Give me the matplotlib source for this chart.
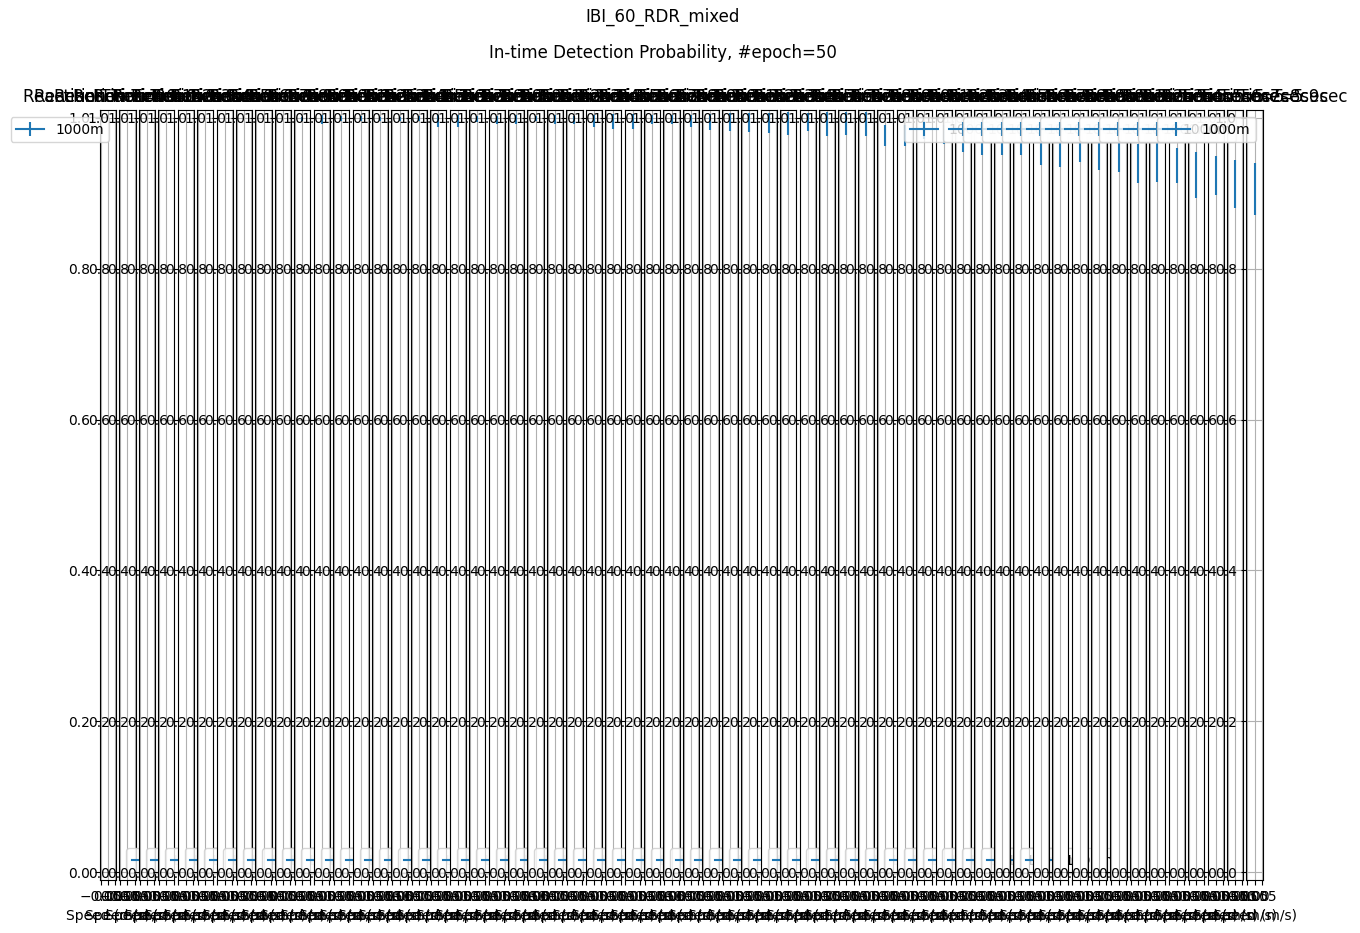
import matplotlib
matplotlib.use('Agg')
from matplotlib import pyplot as plt

run_name = 'IBI_60_RDR_mixed'
plot_title = 'In-time Detection Probability, #epoch=50'
range_label = '1000m'

# one subplot per reaction time setting
reaction_times = ['0', '0.1', '0.2', '0.3', '0.4', '0.5', '0.6', '0.7', '0.8', '0.9',
                  '1.0', '1.1', '1.2', '1.3', '1.4', '1.5', '1.6', '1.7', '1.8', '1.9',
                  '2.0', '2.1', '2.2', '2.3', '2.4', '2.5', '2.6', '2.7', '2.8', '2.9',
                  '3.0', '3.1', '3.2', '3.3', '3.4', '3.5', '3.6', '3.7', '3.8', '3.9',
                  '4.0', '4.1', '4.2', '4.3', '4.4', '4.5', '4.6', '4.7', '4.8', '4.9',
                  '5.0', '5.1', '5.2', '5.3', '5.4', '5.5', '5.6', '5.7', '5.8', '5.9']
speeds = [0.0] * 60

# mean detection probability and std over epochs
det_mean = [1.0, 1.0, 1.0, 1.0, 1.0, 1.0, 1.0, 1.0, 1.0, 1.0,
            0.9986, 0.9969, 0.9983, 0.9983, 0.9986, 0.9986, 0.9983, 0.9958, 0.9955, 0.9979,
            0.9972, 0.9969, 0.9983, 0.9969, 0.9972, 0.9958, 0.9948, 0.9948, 0.9969, 0.9969,
            0.9955, 0.9944, 0.9937, 0.9934, 0.9927, 0.9920, 0.9937, 0.9913, 0.9920, 0.9913,
            0.976, 0.976, 0.9835, 0.9775, 0.9695, 0.9675, 0.9675, 0.968, 0.9585, 0.9575,
            0.9605, 0.953, 0.9515, 0.939, 0.9405, 0.9365, 0.924, 0.923, 0.912, 0.9055]
det_std = [0.0, 0.0, 0.0, 0.0, 0.0, 0.0, 0.0, 0.0, 0.0, 0.0,
           0.0026, 0.0059, 0.0033, 0.0033, 0.0026, 0.0026, 0.0033, 0.0078, 0.0085, 0.0039,
           0.0052, 0.0059, 0.0033, 0.0059, 0.0052, 0.0078, 0.0098, 0.0098, 0.0059, 0.0059,
           0.0085, 0.0104, 0.0117, 0.0124, 0.0137, 0.0150, 0.0117, 0.0163, 0.0150, 0.0163,
           0.014, 0.014, 0.0115, 0.0125, 0.0155, 0.0175, 0.0175, 0.017, 0.0215, 0.0225,
           0.0195, 0.022, 0.0235, 0.026, 0.0265, 0.0235, 0.030, 0.026, 0.032, 0.0345]

# where legend ended up in each subplot
legend_locs = ['upper right'] + ['lower left'] * 45 + ['upper right', 'lower left'] + ['upper right'] * 12

fig, axes = plt.subplots(1, len(reaction_times), figsize=(13.6, 9.33), dpi=100)
fig.subplots_adjust(left=0.0735, right=0.9284, bottom=0.0568, top=0.8821, wspace=0.2)
fig.text(0.4871, 1 - 17 / 933, run_name, ha='center', va='center', fontsize=12)
fig.text(0.4871, 1 - 53 / 933, plot_title, ha='center', va='center', fontsize=12)

for i, ax in enumerate(axes):
    ax.errorbar([speeds[i]], [det_mean[i]], yerr=[det_std[i]], label=range_label)
    ax.set_ylim(-0.01, 1.01)
    ax.set_title('Reaction Time=' + reaction_times[i] + 'sec')
    ax.set_xlabel('Speed (m/s)')
    ax.grid(True)
    ax.legend(loc=legend_locs[i])

plt.savefig('out.png')
